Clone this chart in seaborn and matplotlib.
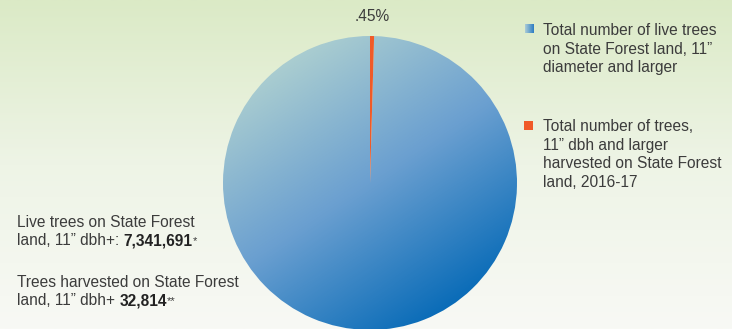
import numpy as np
import seaborn as sns
import matplotlib
matplotlib.use("Agg")
import matplotlib.pyplot as plt
from matplotlib.colors import LinearSegmentedColormap

# data
labels = ["Total number of live trees\non State Forest land, 11\u201d\ndiameter and larger",
          "Total number of trees,\n11\u201d dbh and larger\nharvested on State Forest\nland, 2016-17"]
values = [7341691, 32814]
slice_colors = ["#6a9fd0", "#f05a28"]

sns.set_theme(style="white")
plt.rcParams['font.family'] = ['Liberation Sans', 'DejaVu Sans']
txt = "#3c3c3c"
fs = 11.2

fig = plt.figure(figsize=(7.32, 3.29), dpi=100)

# background gradient (green -> white)
bg = fig.add_axes([0, 0, 1, 1])
bg_cmap = LinearSegmentedColormap.from_list("bg", ["#f8f9f5", "#eef4e6", "#dbeac6"])
grad = np.linspace(0, 1, 256).reshape(-1, 1)
bg.imshow(grad, cmap=bg_cmap, aspect="auto", origin="lower", extent=(0, 1, 0, 1))
bg.set_axis_off()

# pie axes: circle centre (370,183) px, radius 147 px
W, H = 732, 329
cx, cy, r = 370, 183, 147
ax = fig.add_axes([(cx - r) / W, (H - cy - r) / H, 2 * r / W, 2 * r / H])
# harvested slice first so it sits just right of 12 o'clock
wedges, _ = ax.pie(values[::-1], colors=slice_colors[::-1], startangle=90, counterclock=False,
                   radius=1, wedgeprops=dict(linewidth=0))
ax.set_xlim(-1, 1)
ax.set_ylim(-1, 1)
ax.set_axis_off()

# gradient fill on the big wedge
pie_cmap = LinearSegmentedColormap.from_list("pie", ["#aacdd0", "#6a9fd0", "#0a6cb8"])
xx, yy = np.meshgrid(np.linspace(-1, 1, 300), np.linspace(1, -1, 300))
t = 0.55 * xx - 0.83 * yy
img = ax.imshow(t, cmap=pie_cmap, extent=(-1, 1, -1, 1), vmin=-1, vmax=1, zorder=1)
img.set_clip_path(wedges[1])
wedges[1].set_alpha(0)
wedges[0].set_zorder(3)

# overlay axes in pixel coordinates for text
lax = fig.add_axes([0, 0, 1, 1], facecolor="none")
lax.set_xlim(0, W)
lax.set_ylim(H, 0)
lax.set_axis_off()

pct = values[1] / values[0] * 100
lax.text(372, 21, "." + f"{pct:.2f}".split(".")[1] + "%", ha="center", va="baseline",
         fontsize=fs, color=txt)

# legend
sw = np.linspace(0, 1, 20).reshape(1, -1)
lax.imshow(sw, cmap=LinearSegmentedColormap.from_list("sw", ["#a9cbd6", "#2f7ec4"]),
           extent=(525, 534, 33, 24), aspect="auto")
lax.add_patch(plt.Rectangle((524, 121), 9, 9, color=slice_colors[1], lw=0))
for lab, y0 in zip(labels, [35, 131]):
    for i, line in enumerate(lab.split("\n")):
        lax.text(543, y0 + i * 18.7, line, va="baseline", ha="left", fontsize=fs, color=txt)

# left annotations with bold numbers
lax.text(17, 227, "Live trees on State Forest", va="baseline", fontsize=fs, color=txt)
a = lax.text(17, 245, "land, 11\u201d dbh+: ", va="baseline", fontsize=fs, color=txt)
b = lax.annotate(f"{values[0]:,}", xy=(1, 0), xycoords=a, va="bottom", fontsize=fs,
                 color="#222222", fontweight="bold")
lax.annotate("*", xy=(1, 0.15), xycoords=b, va="bottom", fontsize=8, color=txt)

lax.text(17, 287, "Trees harvested on State Forest", va="baseline", fontsize=fs, color=txt)
c = lax.text(17, 305, "land, 11\u201d dbh+ ", va="baseline", fontsize=fs, color=txt)
d = lax.annotate(f"{values[1]:,}", xy=(1, 0), xycoords=c, va="bottom", fontsize=fs,
                 color="#222222", fontweight="bold")
lax.annotate("**", xy=(1, 0.15), xycoords=d, va="bottom", fontsize=8, color=txt)

fig.savefig("out.png", dpi=100)
